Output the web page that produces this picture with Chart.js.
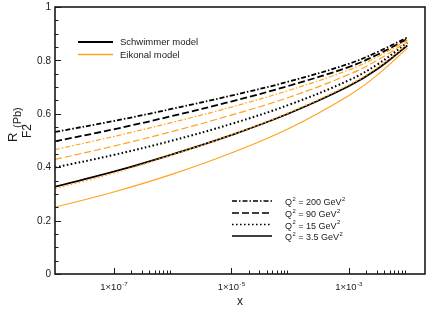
<!DOCTYPE html>
<html>
<head>
<meta charset="utf-8">
<script src="https://cdn.jsdelivr.net/npm/chart.js@4.4.1/dist/chart.umd.min.js"></script>
<style>
  body { margin: 0; background: #fff; }
  #wrap { width: 432px; height: 329px; position: relative; }
</style>
</head>
<body>
<div id="wrap"><canvas id="chart"></canvas></div>
<script>
// x positions of the sampled points (Bjorken x)
var xVals = [1e-8, 1e-7, 1e-6, 1e-5, 1e-4, 1e-3, 3e-3, 1e-2];

// Schwimmer model (black)
var schwimmer200 = [0.532, 0.573, 0.619, 0.668, 0.722, 0.787, 0.830, 0.886];
var schwimmer90  = [0.497, 0.542, 0.592, 0.646, 0.706, 0.775, 0.820, 0.880];
var schwimmer15  = [0.399, 0.446, 0.500, 0.562, 0.635, 0.725, 0.783, 0.866];
var schwimmer3_5 = [0.327, 0.383, 0.448, 0.520, 0.603, 0.703, 0.766, 0.856];

// Eikonal model (orange)
var eikonal200 = [0.466, 0.515, 0.568, 0.625, 0.689, 0.764, 0.812, 0.876];
var eikonal90  = [0.429, 0.479, 0.534, 0.595, 0.663, 0.747, 0.799, 0.871];
var eikonal15  = [0.320, 0.378, 0.446, 0.521, 0.606, 0.708, 0.771, 0.860];
var eikonal3_5 = [0.250, 0.307, 0.374, 0.453, 0.547, 0.668, 0.743, 0.846];

var xTicks = [1e-7, 1e-5, 1e-3];
var xMinorDecades = [1e-7, 1e-5, 1e-3];
var yTicks = [0, 0.2, 0.4, 0.6, 0.8, 1];

var qLabels = ['200', '90', '15', '3.5'];

var BLACK = '#000000';
var ORANGE = '#ffa31f';
var DASHDOT = [5, 2, 1.5, 2];
var DASH = [7, 3];
var DOT = [1.6, 2.4];
var FONT = '"Liberation Sans", Arial, Helvetica, sans-serif';

function pts(ys) {
    return xVals.map(function (x, i) { return { x: x, y: ys[i] }; });
}

function ds(ys, color, dash, width) {
    return {
        data: pts(ys),
        borderColor: color,
        borderWidth: width,
        borderDash: dash,
        pointRadius: 0,
        fill: false,
        tension: 0.4
    };
}

var datasets = [
    ds(eikonal3_5, ORANGE, [], 1.2),
    ds(eikonal15, ORANGE, DOT, 1.6),
    ds(eikonal90, ORANGE, DASH, 1.2),
    ds(eikonal200, ORANGE, DASHDOT, 1.2),
    ds(schwimmer3_5, BLACK, [], 1.8),
    ds(schwimmer15, BLACK, DOT, 2),
    ds(schwimmer90, BLACK, DASH, 1.8),
    ds(schwimmer200, BLACK, DASHDOT, 1.8)
];

function supText(ctx, base, sup, x, y, size, align) {
    ctx.font = size + 'px ' + FONT;
    var wb = ctx.measureText(base).width;
    ctx.font = (size * 0.65) + 'px ' + FONT;
    var ws = ctx.measureText(sup).width;
    var x0 = x;
    if (align === 'center') x0 = x - (wb + ws) / 2;
    ctx.textAlign = 'left';
    ctx.font = size + 'px ' + FONT;
    ctx.fillText(base, x0, y);
    ctx.font = (size * 0.65) + 'px ' + FONT;
    ctx.fillText(sup, x0 + wb + 0.5, y - size * 0.45);
    return x0 + wb + ws + 0.5;
}

var decor = {
    id: 'decor',
    afterDraw: function (chart) {
        var ctx = chart.ctx;
        var a = chart.chartArea;
        var xs = chart.scales.x, ys = chart.scales.y;
        ctx.save();
        ctx.strokeStyle = '#1a1a1a';
        ctx.fillStyle = '#1a1a1a';
        ctx.setLineDash([]);

        // frame
        ctx.lineWidth = 1.6;
        ctx.strokeRect(a.left, a.top, a.right - a.left, a.bottom - a.top);

        // y ticks, pointing inwards
        ctx.lineWidth = 1;
        for (var v = 0; v <= 1.0001; v += 0.05) {
            var py = Math.round(ys.getPixelForValue(v)) + 0.5;
            var major = Math.abs(v * 5 - Math.round(v * 5)) < 1e-6;
            ctx.beginPath();
            ctx.moveTo(a.left, py);
            ctx.lineTo(a.left + (major ? 6 : 3.5), py);
            ctx.stroke();
        }
        ctx.textAlign = 'right';
        ctx.textBaseline = 'middle';
        ctx.font = '10px ' + FONT;
        yTicks.forEach(function (t) {
            ctx.fillText(String(t), a.left - 4, ys.getPixelForValue(t) + 0.5);
        });

        // x ticks
        xTicks.forEach(function (t) {
            var px = Math.round(xs.getPixelForValue(t)) + 0.5;
            ctx.beginPath();
            ctx.moveTo(px, a.bottom);
            ctx.lineTo(px, a.bottom - 6);
            ctx.stroke();
        });
        xMinorDecades.forEach(function (d) {
            for (var k = 2; k <= 9; k++) {
                var px = Math.round(xs.getPixelForValue(d * k)) + 0.5;
                ctx.beginPath();
                ctx.moveTo(px, a.bottom);
                ctx.lineTo(px, a.bottom - 3.5);
                ctx.stroke();
            }
        });
        ctx.textBaseline = 'alphabetic';
        xTicks.forEach(function (t) {
            var e = Math.round(Math.log10(t));
            supText(ctx, '1\u00d710', String(e), xs.getPixelForValue(t), a.bottom + 16, 9.5, 'center');
        });

        // axis titles
        ctx.font = '12px ' + FONT;
        ctx.textAlign = 'center';
        ctx.fillText('x', (a.left + a.right) / 2, 305);

        ctx.save();
        ctx.translate(0, 142);
        ctx.rotate(-Math.PI / 2);
        ctx.textAlign = 'left';
        ctx.font = '13px ' + FONT;
        ctx.fillText('R', 0, 17);
        ctx.font = '12px ' + FONT;
        ctx.fillText('F2', 4, 31);
        ctx.font = '11px ' + FONT;
        ctx.fillText('(Pb)', 14, 21);
        ctx.restore();

        // model legend
        ctx.textAlign = 'left';
        ctx.textBaseline = 'middle';
        ctx.font = '9.5px ' + FONT;
        [['Schwimmer model', BLACK, 2, 42], ['Eikonal model', ORANGE, 1.3, 54.5]].forEach(function (r) {
            ctx.strokeStyle = r[1];
            ctx.lineWidth = r[2];
            ctx.beginPath();
            ctx.moveTo(78, r[3]);
            ctx.lineTo(113, r[3]);
            ctx.stroke();
            ctx.fillStyle = '#1a1a1a';
            ctx.fillText(r[0], 120, r[3] + 0.5);
        });

        // Q^2 legend
        var dashes = [DASHDOT, DASH, DOT, []];
        var rows = [201, 213, 224.5, 236];
        qLabels.forEach(function (q, i) {
            ctx.strokeStyle = BLACK;
            ctx.lineWidth = 1.6;
            ctx.setLineDash(dashes[i]);
            ctx.beginPath();
            ctx.moveTo(232, rows[i]);
            ctx.lineTo(272, rows[i]);
            ctx.stroke();
            ctx.setLineDash([]);
            ctx.fillStyle = '#1a1a1a';
            ctx.textBaseline = 'alphabetic';
            var xe = supText(ctx, 'Q', '2', 285, rows[i] + 4, 9, 'left');
            xe = supText(ctx, ' = ' + q + ' GeV', '2', xe, rows[i] + 4, 9, 'left');
        });
        ctx.restore();
    }
};

new Chart(document.getElementById('chart'), {
    type: 'line',
    data: { datasets: datasets },
    options: {
        responsive: true,
        maintainAspectRatio: false,
        animation: false,
        layout: { padding: { top: 7, right: 7, left: 0, bottom: 0 } },
        plugins: { legend: { display: false }, tooltip: { enabled: false } },
        scales: {
            x: {
                type: 'logarithmic',
                min: 1e-8,
                max: 2e-2,
                grid: { display: false },
                border: { display: false },
                ticks: { display: false },
                afterFit: function (s) { s.height = 55; }
            },
            y: {
                type: 'linear',
                min: 0,
                max: 1,
                grid: { display: false },
                border: { display: false },
                ticks: { display: false },
                afterFit: function (s) { s.width = 55; }
            }
        }
    },
    plugins: [decor]
});
</script>
</body>
</html>
